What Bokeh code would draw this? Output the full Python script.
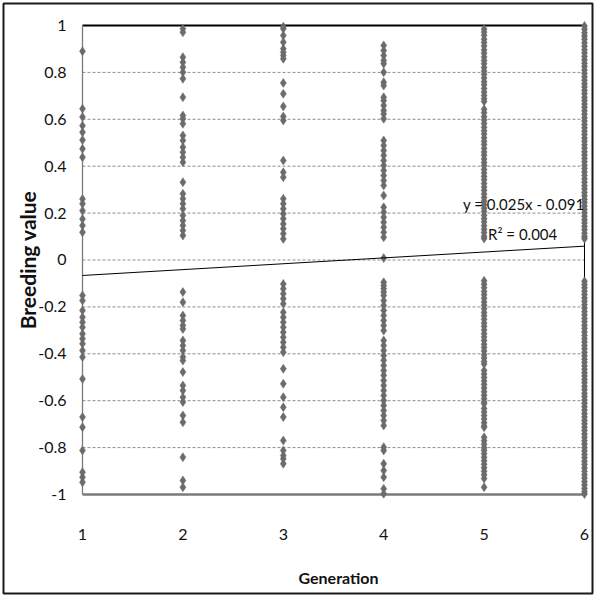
from bokeh.plotting import figure
from bokeh.models import ColumnDataSource, Label
from bokeh.core.properties import value
from bokeh.embed import file_html
from bokeh.resources import INLINE

# ---------------- data ----------------
generations = [1, 2, 3, 4, 5, 6]

gen1_values = [0.89, 0.645, 0.61, 0.573, 0.545, 0.512, 0.474, 0.438, 0.26, 0.24, 0.21,
               0.175, 0.147, 0.118, -0.151, -0.173, -0.215, -0.244, -0.265, -0.287,
               -0.315, -0.336, -0.357, -0.386, -0.414, -0.507, -0.670, -0.713, -0.812,
               -0.905, -0.926, -0.948]

gen2_values = [0.986, 0.971, 0.865, 0.843, 0.822, 0.801, 0.773, 0.694, 0.616, 0.602,
               0.581, 0.531, 0.510, 0.481, 0.460, 0.438, 0.417, 0.332, 0.282, 0.261,
               0.240, 0.218, 0.190, 0.168, 0.147, 0.126, 0.104, -0.137, -0.180, -0.237,
               -0.258, -0.279, -0.294, -0.343, -0.365, -0.386, -0.414, -0.429, -0.478,
               -0.535, -0.557, -0.585, -0.606, -0.663, -0.692, -0.841, -0.940, -0.969]

gen3_values = [0.995, 0.986, 0.957, 0.929, 0.901, 0.886, 0.872, 0.858, 0.755, 0.709,
               0.655, 0.612, 0.595, 0.424, 0.374, 0.353, 0.261, 0.240, 0.218, 0.197,
               0.176, 0.154, 0.133, 0.112, 0.090, -0.102, -0.123, -0.144, -0.165, -0.187,
               -0.223, -0.244, -0.265, -0.287, -0.308, -0.329, -0.351, -0.372, -0.393,
               -0.464, -0.528, -0.585, -0.628, -0.670, -0.770, -0.812, -0.834, -0.848,
               -0.869]

gen4_values = [0.915, 0.893, 0.872, 0.851, 0.837, 0.801, 0.758, 0.744, 0.694, 0.680,
               0.659, 0.638, 0.623, 0.602, 0.510, 0.488, 0.467, 0.446, 0.424, 0.403,
               0.382, 0.360, 0.339, 0.318, 0.275, 0.225, 0.204, 0.182, 0.161, 0.140,
               0.118, 0.097, 0.008, -0.095, -0.109, -0.123, -0.137, -0.151, -0.173,
               -0.194, -0.215, -0.237, -0.258, -0.279, -0.301, -0.343, -0.365, -0.386,
               -0.407, -0.428, -0.450, -0.471, -0.492, -0.514, -0.535, -0.556, -0.578,
               -0.599, -0.620, -0.642, -0.663, -0.684, -0.706, -0.798, -0.812, -0.869,
               -0.898, -0.926, -0.976, -0.997]

gen5_values = [0.985, 0.972, 0.958, 0.941, 0.927, 0.913, 0.896, 0.882, 0.866, 0.851,
               0.837, 0.821, 0.806, 0.792, 0.776, 0.760, 0.747, 0.731, 0.716, 0.702,
               0.688, 0.676, 0.643, 0.628, 0.611, 0.597, 0.582, 0.566, 0.551, 0.537,
               0.521, 0.506, 0.492, 0.476, 0.461, 0.447, 0.431, 0.416, 0.402, 0.386,
               0.371, 0.356, 0.342, 0.326, 0.311, 0.297, 0.281, 0.266, 0.252, 0.236,
               0.221, 0.207, 0.191, 0.176, 0.162, 0.146, 0.131, 0.117, 0.101, 0.092,
               -0.089, -0.103, -0.118, -0.134, -0.148, -0.163, -0.179, -0.193, -0.208,
               -0.224, -0.238, -0.253, -0.269, -0.283, -0.298, -0.314, -0.328, -0.343,
               -0.359, -0.373, -0.388, -0.404, -0.418, -0.433, -0.443, -0.471, -0.486,
               -0.501, -0.516, -0.531, -0.546, -0.562, -0.577, -0.592, -0.606, -0.613,
               -0.633, -0.648, -0.663, -0.678, -0.694, -0.708, -0.713, -0.756, -0.771,
               -0.786, -0.801, -0.812, -0.826, -0.841, -0.856, -0.871, -0.886, -0.901,
               -0.916, -0.932, -0.969]

gen6_values = [0.998, 0.984, 0.969, 0.955, 0.941, 0.926, 0.912, 0.897, 0.883, 0.868,
               0.854, 0.839, 0.825, 0.810, 0.796, 0.781, 0.767, 0.752, 0.738, 0.723,
               0.709, 0.694, 0.680, 0.665, 0.651, 0.636, 0.622, 0.607, 0.593, 0.578,
               0.564, 0.549, 0.535, 0.520, 0.506, 0.491, 0.477, 0.462, 0.448, 0.433,
               0.419, 0.404, 0.390, 0.375, 0.361, 0.346, 0.332, 0.317, 0.303, 0.288,
               0.274, 0.259, 0.245, 0.230, 0.216, 0.201, 0.187, 0.172, 0.158, 0.143,
               0.129, 0.114, 0.100, 0.091,
               -0.091, -0.104, -0.118, -0.133, -0.147, -0.162, -0.176, -0.191, -0.205,
               -0.220, -0.234, -0.249, -0.263, -0.278, -0.292, -0.307, -0.321, -0.336,
               -0.350, -0.365, -0.379, -0.394, -0.408, -0.423, -0.437, -0.452, -0.466,
               -0.481, -0.495, -0.510, -0.524, -0.539, -0.553, -0.568, -0.582, -0.597,
               -0.611, -0.626, -0.640, -0.655, -0.669, -0.684, -0.698, -0.713, -0.727,
               -0.742, -0.756, -0.771, -0.785, -0.800, -0.814, -0.829, -0.843, -0.858,
               -0.872, -0.887, -0.901, -0.916, -0.930, -0.945, -0.959, -0.974, -0.988,
               -0.998]

y_ticks = [-1.0, -0.8, -0.6, -0.4, -0.2, 0.0, 0.2, 0.4, 0.6, 0.8, 1.0]
grid_levels = [-0.8, -0.6, -0.4, -0.2, 0.0, 0.2, 0.4, 0.6, 0.8]
x_title = "Generation"
y_title = "Breeding value"

trend_slope = 0.025
trend_intercept = -0.091
trend_text = "y = 0.025x - 0.091"
r2_text = "R\u00b2 = 0.004"

# ---------------- build point table ----------------
all_values = [gen1_values, gen2_values, gen3_values, gen4_values, gen5_values, gen6_values]
px, py = [], []
for g, vals in zip(generations, all_values):
    px.extend([g] * len(vals))
    py.extend(vals)
src = ColumnDataSource(dict(x=px, y=py))

x_lo, x_hi = generations[0], generations[-1]
y_lo, y_hi = y_ticks[0], y_ticks[-1]
trend_x = [x_lo, x_hi]
trend_y = [trend_slope * v + trend_intercept for v in trend_x]

# ---------------- figure ----------------
# The frame fills the whole chart box; its outline is the chart's outer border.
W, H = 595, 596
XPX = 100.4   # pixels per generation
YPX = 234.5   # pixels per breeding-value unit
p = figure(width=W, height=H, x_range=(0.2131, 6.0797), y_range=(-1.4222, 1.0938),
           output_backend="svg", toolbar_location=None,
           x_axis_location=None, y_axis_location=None,
           min_border_left=3, min_border_right=3, min_border_top=3, min_border_bottom=3)
p.outline_line_color = "#1a1a1a"
p.outline_line_width = 2
p.background_fill_color = "white"
p.border_fill_color = "white"
p.xgrid.visible = False
p.ygrid.visible = False

FONT = "Lato"
TXT = "#111111"

# gridlines
n = len(grid_levels)
p.segment(x0=[x_lo] * n, y0=grid_levels, x1=[x_hi] * n, y1=grid_levels,
          line_color="#8c8c8c", line_width=1, line_dash="3 2")

# plot-area edges
p.line([x_lo, x_hi], [y_hi, y_hi], line_color="black", line_width=2)
p.line([x_hi, x_hi], [y_lo, y_hi], line_color="black", line_width=1)
p.line([x_lo, x_lo], [y_lo, y_hi], line_color="#7a7a7a", line_width=1.3)
p.line([x_lo, x_hi], [y_lo, y_lo], line_color="#7a7a7a", line_width=2.5)

# tick labels (placed through the data scales)
ylab_x = x_lo - 16 / XPX
p.text(x=[ylab_x] * len(y_ticks), y=y_ticks, text=[f"{v:g}" for v in y_ticks],
       text_font=value(FONT), text_font_size=value("16px"), text_color=TXT,
       text_align="right", text_baseline="middle")
xlab_y = y_lo - 40 / YPX
p.text(x=generations, y=[xlab_y] * len(generations), text=[str(g) for g in generations],
       text_font=value(FONT), text_font_size=value("16px"), text_color=TXT,
       text_align="center", text_baseline="middle")

# axis titles
p.text(x=[x_lo + 256 / XPX], y=[y_lo - 83 / YPX], text=[x_title],
       text_font=value(FONT), text_font_size=value("16px"), text_font_style="bold",
       text_color=TXT, text_align="center", text_baseline="middle")
p.text(x=[x_lo - 55 / XPX], y=[(y_lo + y_hi) / 2], text=[y_title], angle=1.5708,
       text_font=value(FONT), text_font_size=value("21px"), text_font_style="bold",
       text_color=TXT, text_align="center", text_baseline="middle")

# points
p.scatter("x", "y", source=src, marker="diamond", size=9,
          fill_color="#6b6b6b", line_color="#6b6b6b", line_width=0.5)

# trend line
p.line(trend_x, trend_y, line_color="black", line_width=1)

p.add_layout(Label(x=4.79, y=0.237, text=trend_text, text_baseline="middle",
                   text_font=FONT, text_font_size="15px", text_color=TXT))
p.add_layout(Label(x=5.04, y=0.109, text=r2_text, text_baseline="middle",
                   text_font=FONT, text_font_size="15px", text_color=TXT))

open("out.html", "w").write(file_html(p, INLINE))
